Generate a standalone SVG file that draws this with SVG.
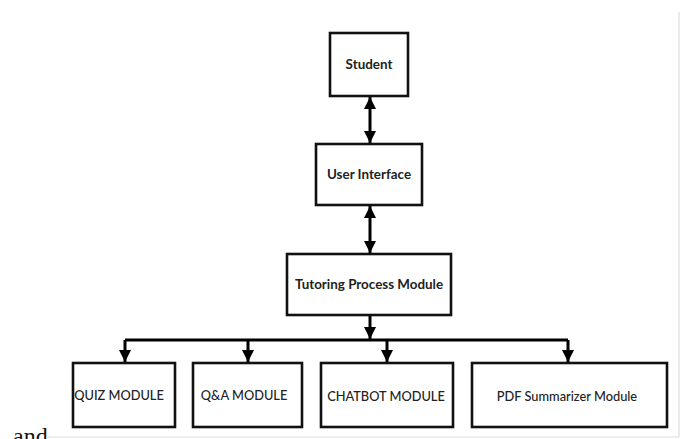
<svg xmlns="http://www.w3.org/2000/svg" width="681" height="439" viewBox="0 0 681 439">
<style>
.box{fill:#fff;stroke:#111;stroke-width:2.6}
.t1{font-family:Lato,"Open Sans",sans-serif;font-weight:700;font-size:13.4px;fill:#222;text-anchor:middle;dominant-baseline:central}
.t2{font-family:Lato,"Open Sans",sans-serif;font-weight:500;font-size:12.8px;fill:#222;text-anchor:middle;dominant-baseline:central}
.ln{stroke:#000;stroke-width:3;fill:none}
.frame{stroke:#ddd;stroke-width:1.2;fill:none}
</style>
<defs>
<marker id="ah" markerUnits="userSpaceOnUse" markerWidth="14" markerHeight="14" viewBox="0 0 14 14" refX="12" refY="7" orient="auto-start-reverse">
<path d="M0,1 L12,7 L0,13 Z" fill="#000"/>
</marker>
</defs>
<rect width="681" height="439" fill="#fff"/>
<path class="frame" d="M679,12 V437 M48,437 H679"/>
<g id="connectors">
<path class="ln" d="M370,97 V143" marker-start="url(#ah)" marker-end="url(#ah)"/>
<path class="ln" d="M370,206 V253" marker-start="url(#ah)" marker-end="url(#ah)"/>
<path class="ln" d="M370,316 V339" marker-end="url(#ah)"/>
<path class="ln" d="M125,340 H568"/>
<path class="ln" d="M125,340 V362" marker-end="url(#ah)"/>
<path class="ln" d="M248,340 V362" marker-end="url(#ah)"/>
<path class="ln" d="M387,340 V362" marker-end="url(#ah)"/>
<path class="ln" d="M568,340 V362" marker-end="url(#ah)"/>
</g>
<g id="student"><rect class="box" x="330" y="33" width="78" height="63"/><text class="t1" x="369" y="64">Student</text></g>
<g id="ui"><rect class="box" x="316" y="144" width="106" height="61"/><text class="t1" x="369" y="174">User Interface</text></g>
<g id="tpm"><rect class="box" x="287" y="254" width="164" height="61"/><text class="t1" x="369" y="284">Tutoring Process Module</text></g>
<g id="quiz"><rect class="box" x="73" y="363" width="102" height="64"/><text class="t2" x="119" y="395">QUIZ MODULE</text></g>
<g id="qa"><rect class="box" x="193" y="363" width="109" height="64"/><text class="t2" x="244" y="395">Q&amp;A MODULE</text></g>
<g id="chatbot"><rect class="box" x="321" y="363" width="132" height="64"/><text class="t2" x="386" y="396">CHATBOT MODULE</text></g>
<g id="pdf"><rect class="box" x="472" y="363" width="195" height="64"/><text class="t2" x="567" y="396">PDF Summarizer Module</text></g>
<text x="13" y="444" font-family="Liberation Serif,serif" font-size="24" fill="#111">and</text>
</svg>
